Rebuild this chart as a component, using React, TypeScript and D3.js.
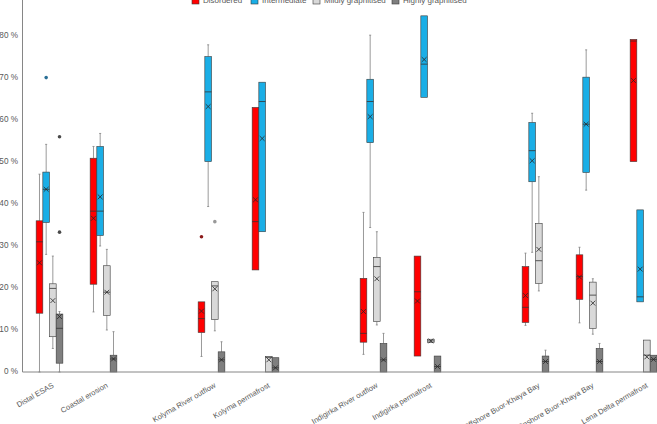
import React, { useEffect, useRef } from 'react';
import * as d3 from 'd3';

// category slots, empty strings are the blank slots between pairs
const slots = [
  'Distal ESAS',
  'Coastal erosion',
  '',
  'Kolyma River outflow',
  'Kolyma permafrost',
  '',
  'Indigirka River outflow',
  'Indigirka permafrost',
  '',
  'Offshore Buor-Khaya Bay',
  'Onshore Buor-Khaya Bay',
  'Lena Delta permafrost',
];

const seriesNames = ['Disordered', 'Intermediate', 'Mildly graphitised', 'Highly graphitised'];

// [whisker low, q1, median, q3, whisker high, mean], one row per non-blank category
const disordered = [
  [0, 14.0, 31.0, 36.0, 47.1, 26.0],
  [14.3, 20.9, 38.3, 50.9, 53.7, 36.6],
  [3.7, 9.4, 12.7, 16.7, 16.7, 14.5],
  [24.3, 24.3, 35.8, 63.0, 63.0, 41.0],
  [4.2, 7.1, 9.2, 22.3, 38.0, 14.4],
  [3.8, 3.8, 19.1, 27.6, 27.6, 16.9],
  [11.1, 11.8, 15.4, 25.1, 28.3, 18.2],
  [11.7, 17.3, 22.7, 27.9, 29.7, 22.6],
  [50.1, 50.1, 78.8, 79.2, 79.2, 69.4],
];
const intermediate = [
  [28.0, 35.6, 43.5, 47.6, 54.2, 43.5],
  [30.0, 32.5, 38.3, 53.7, 56.8, 41.7],
  [39.4, 50.1, 66.7, 75.1, 77.9, 63.2],
  [33.4, 33.4, 64.4, 69.0, 69.0, 55.6],
  [34.4, 54.6, 64.4, 69.7, 80.2, 60.8],
  [65.4, 65.4, 73.3, 84.8, 84.8, 74.4],
  [28.5, 45.3, 52.7, 59.4, 61.6, 50.3],
  [43.3, 47.5, 59.0, 70.2, 76.7, 59.0],
  [16.7, 16.7, 17.9, 38.6, 38.6, 24.5],
];
const mildly = [
  [5.6, 8.4, 19.9, 21.0, 27.6, 17.0],
  [10.0, 13.5, 19.0, 25.3, 29.2, 19.0],
  [9.8, 12.5, 20.5, 21.5, 21.5, 19.8],
  [0, 0, 3.5, 3.7, 3.7, 2.9],
  [11.2, 12.0, 25.1, 27.3, 33.4, 22.2],
  [7.0, 7.0, 7.4, 7.8, 7.8, 7.4],
  [19.3, 21.1, 26.5, 35.4, 46.5, 29.2],
  [9.0, 10.4, 18.3, 21.4, 22.2, 16.4],
  [0, 0, 4.0, 7.6, 7.6, 3.6],
];
const highly = [
  [0, 2.1, 10.4, 13.8, 14.4, 13.2],
  [0, 0, 3.1, 4.0, 9.6, 3.1],
  [0, 0, 2.9, 4.8, 7.2, 2.9],
  [0, 0, 1.0, 3.4, 3.4, 1.0],
  [0, 0, 2.9, 6.8, 9.2, 2.9],
  [0, 0, 1.3, 3.8, 3.8, 1.3],
  [0, 0, 2.5, 3.8, 5.2, 2.5],
  [0, 0, 2.5, 5.6, 6.8, 2.5],
  [0, 0, 3.0, 4.0, 4.0, 3.0],
];

// outliers: [category, value]
const disorderedOutliers: [string, number][] = [['Kolyma River outflow', 32.2]];
const intermediateOutliers: [string, number][] = [['Distal ESAS', 70.1]];
const mildlyOutliers: [string, number][] = [['Kolyma River outflow', 35.8]];
const highlyOutliers: [string, number][] = [
  ['Distal ESAS', 33.3],
  ['Distal ESAS', 56.0],
];

const yTicks = [0, 10, 20, 30, 40, 50, 60, 70, 80];

const colors = ['#ff0000', '#1aaee6', '#d9d9d9', '#7f7f7f'];
const outlierColors = ['#8b1a1a', '#2a6f96', '#999999', '#4a4a4a'];
const legendX = [192, 251, 313, 392];

const App: React.FC = () => {
  const svgRef = useRef<SVGSVGElement>(null);

  useEffect(() => {
    if (!svgRef.current) return;
    const svg = d3.select(svgRef.current);
    svg.selectAll('*').remove();

    const width = 657;
    const height = 424;
    const left = 22.5;
    const bottom = 372;
    const font = 'Liberation Sans, Arial, sans-serif';
    const textColor = '#595959';

    const y = d3.scaleLinear().domain([0, 80]).range([bottom, 36]);
    const x = d3
      .scaleBand<number>()
      .domain(d3.range(slots.length))
      .range([left, left + 54 * slots.length])
      .padding(0);
    const inner = d3
      .scaleBand<string>()
      .domain(seriesNames)
      .range([-13.35, 13.35])
      .padding(0);

    const cats = slots.filter(s => s !== '');
    const slotOf = (name: string) => slots.indexOf(name);
    const allStats = [disordered, intermediate, mildly, highly];
    const allOutliers = [disorderedOutliers, intermediateOutliers, mildlyOutliers, highlyOutliers];

    // axes
    svg
      .append('line')
      .attr('x1', left)
      .attr('x2', left)
      .attr('y1', 0)
      .attr('y2', bottom)
      .attr('stroke', '#868686')
      .attr('stroke-width', 1);

    yTicks.forEach(t => {
      svg
        .append('text')
        .attr('x', 18)
        .attr('y', y(t))
        .attr('text-anchor', 'end')
        .attr('dominant-baseline', 'middle')
        .attr('font-family', font)
        .attr('font-size', '8.2px')
        .attr('fill', textColor)
        .text(`${t} %`);
    });

    // boxes
    allStats.forEach((stats, si) => {
      const bw = inner.bandwidth();
      stats.forEach((d, ci) => {
        const [lo, q1, med, q3, hi, mean] = d;
        const slot = slotOf(cats[ci]);
        const x0 = (x(slot) as number) + x.bandwidth() / 2 + (inner(seriesNames[si]) as number);
        const cx = x0 + bw / 2;
        const g = svg.append('g');

        // whiskers
        if (hi > q3) {
          g.append('line').attr('x1', cx).attr('x2', cx).attr('y1', y(q3)).attr('y2', y(hi))
            .attr('stroke', '#808080').attr('stroke-width', 0.8);
          g.append('line').attr('x1', cx - 1).attr('x2', cx + 1).attr('y1', y(hi)).attr('y2', y(hi))
            .attr('stroke', '#808080').attr('stroke-width', 0.8);
        }
        if (lo < q1) {
          g.append('line').attr('x1', cx).attr('x2', cx).attr('y1', y(q1)).attr('y2', y(lo))
            .attr('stroke', '#808080').attr('stroke-width', 0.8);
          g.append('line').attr('x1', cx - 1).attr('x2', cx + 1).attr('y1', y(lo)).attr('y2', y(lo))
            .attr('stroke', '#808080').attr('stroke-width', 0.8);
        }

        g.append('rect')
          .attr('x', x0)
          .attr('y', y(q3))
          .attr('width', bw)
          .attr('height', Math.max(0.5, y(q1) - y(q3)))
          .attr('fill', colors[si])
          .attr('stroke', '#3a3a3a')
          .attr('stroke-width', 0.6);

        g.append('line').attr('x1', x0).attr('x2', x0 + bw).attr('y1', y(med)).attr('y2', y(med))
          .attr('stroke', '#333').attr('stroke-width', 0.8);

        const m = 2.4;
        const my = y(mean);
        g.append('path')
          .attr('d', `M${cx - m},${my - m}L${cx + m},${my + m}M${cx - m},${my + m}L${cx + m},${my - m}`)
          .attr('stroke', '#262626')
          .attr('stroke-width', 0.8)
          .attr('fill', 'none');
      });

      allOutliers[si].forEach(([cat, v]) => {
        const slot = slotOf(cat);
        const cx = (x(slot) as number) + x.bandwidth() / 2 + (inner(seriesNames[si]) as number) + bw / 2;
        svg.append('circle').attr('cx', cx).attr('cy', y(v)).attr('r', 1.8)
          .attr('fill', outlierColors[si]).attr('stroke', 'none');
      });
    });

    // x axis line on top of boxes
    svg
      .append('line')
      .attr('x1', left)
      .attr('x2', width)
      .attr('y1', bottom)
      .attr('y2', bottom)
      .attr('stroke', '#868686')
      .attr('stroke-width', 1);

    // category labels
    slots.forEach((s, i) => {
      if (!s) return;
      const lx = (x(i) as number) + x.bandwidth() / 2 + 2;
      svg
        .append('text')
        .attr('transform', `translate(${lx},${bottom + 10}) rotate(-30)`)
        .attr('text-anchor', 'end')
        .attr('dominant-baseline', 'hanging')
        .attr('font-family', font)
        .attr('font-size', '7.6px')
        .attr('fill', textColor)
        .text(s);
    });

    // legend, partly cut off at top
    seriesNames.forEach((name, i) => {
      svg.append('rect').attr('x', legendX[i]).attr('y', -3).attr('width', 7).attr('height', 7)
        .attr('fill', colors[i]).attr('stroke', '#3a3a3a').attr('stroke-width', 0.6);
      svg.append('text')
        .attr('x', legendX[i] + 11)
        .attr('y', 1)
        .attr('dominant-baseline', 'middle')
        .attr('font-family', font)
        .attr('font-size', '8px')
        .attr('fill', textColor)
        .text(name);
    });

    svg.attr('width', width).attr('height', height);
  }, []);

  return (
    <svg
      ref={svgRef}
      width="657"
      height="424"
      style={{ position: 'absolute', left: 0, top: 0, background: '#fff' }}
    />
  );
};

export default App;
